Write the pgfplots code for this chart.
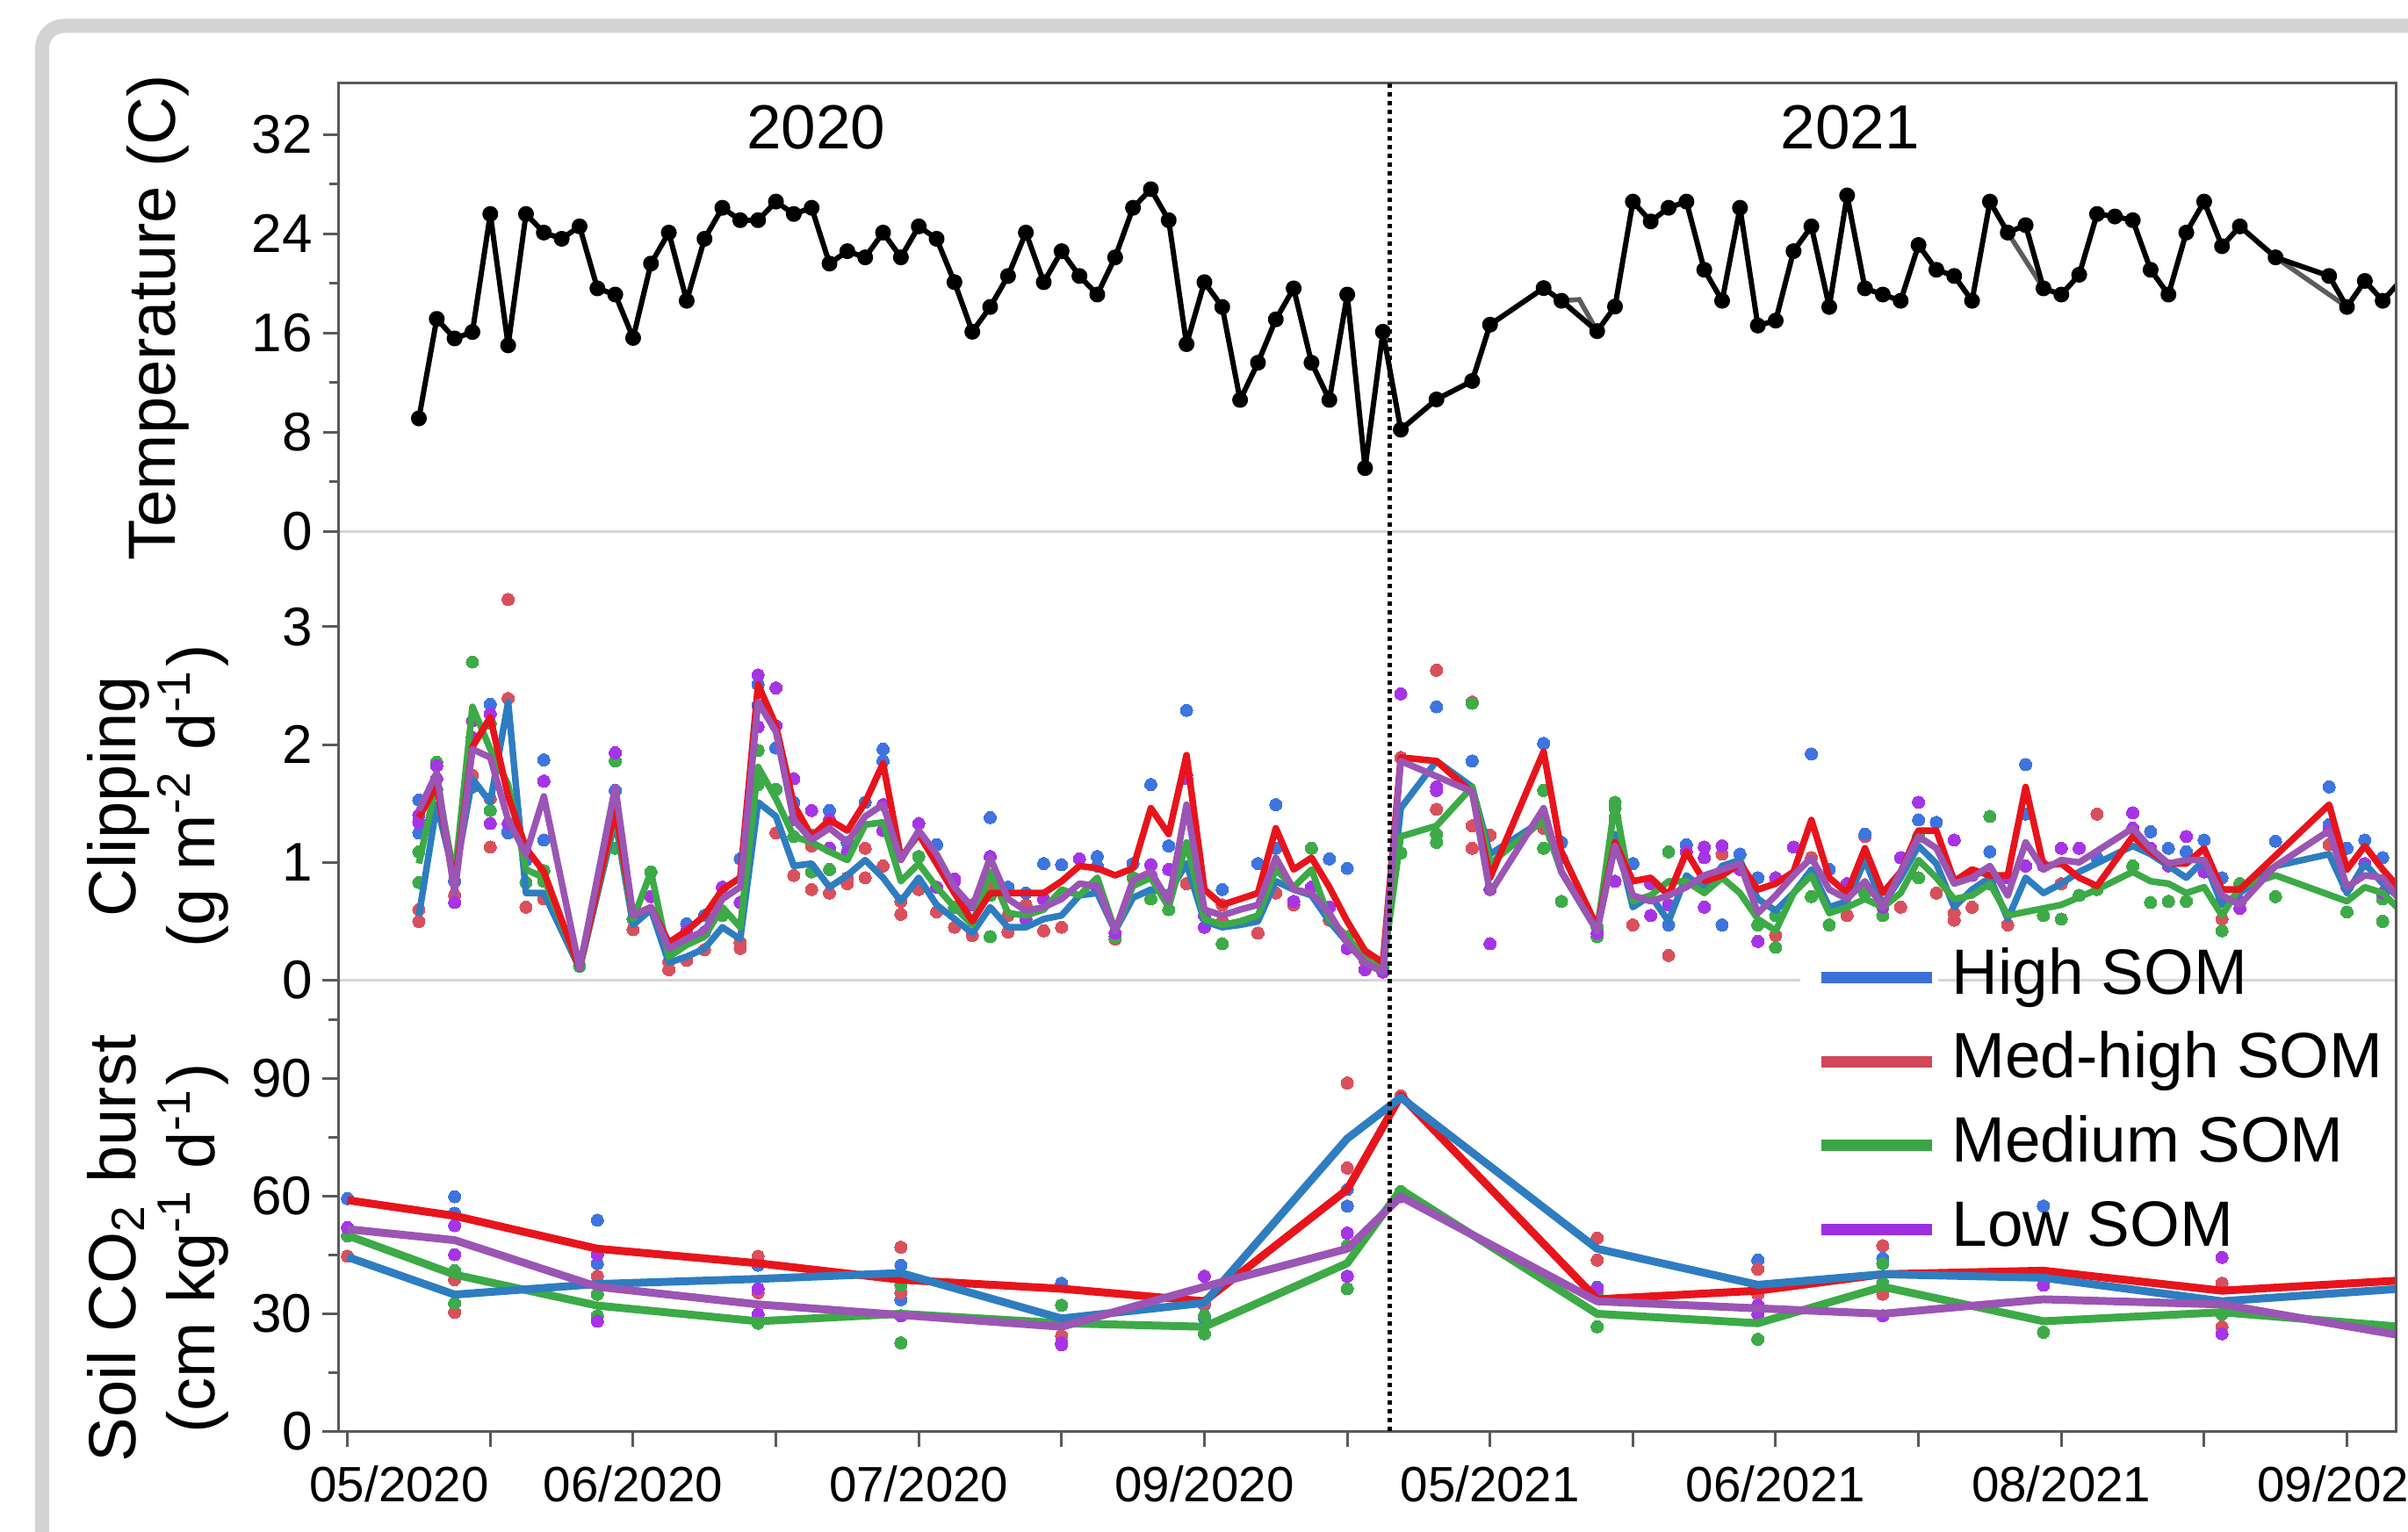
\documentclass[border=0pt]{standalone}
\usepackage{pgfplots}
\pgfplotsset{compat=1.18}
\usepackage{fontspec}
\setmainfont{Liberation Sans}

\definecolor{axgray}{HTML}{5A5A5A}
\definecolor{sepgray}{HTML}{D6D6D6}
\definecolor{framegray}{HTML}{D3D3D3}
\definecolor{tgray}{HTML}{5C5C5C}
\definecolor{blueline}{HTML}{2E7DC1}
\definecolor{redline}{HTML}{E8141C}
\definecolor{greenline}{HTML}{3CAA46}
\definecolor{purpleline}{HTML}{9B55B4}
\definecolor{bluedot}{HTML}{3D74E0}
\definecolor{reddot}{HTML}{D9505C}
\definecolor{greendot}{HTML}{3CAB48}
\definecolor{purpledot}{HTML}{A634E6}
\definecolor{legblue}{HTML}{3A6FD8}
\definecolor{legred}{HTML}{D24759}
\definecolor{leggreen}{HTML}{3AA543}
\definecolor{legpurple}{HTML}{9B2FE0}

\newcommand\fTick{\fontsize{6.2}{7}\selectfont}
\newcommand\fX{\fontsize{5.65}{6.5}\selectfont}
\newcommand\fYear{\fontsize{7.1}{8}\selectfont}
\newcommand\fLab{\fontsize{7.6}{9}\selectfont}
\newcommand\fLeg{\fontsize{7.3}{8}\selectfont}

\pgfplotsset{
  panel/.style={
    scale only axis, width=234.25pt,
    xmin=-0.5, xmax=114.73,
    axis line style={draw=none},
    tick align=outside,
    xtick pos=bottom, ytick pos=left,
    major tick length=1.8pt, minor tick length=1.1pt,
    tick style={draw=axgray, line width=0.3pt},
    minor tick style={draw=axgray, line width=0.3pt},
    yticklabel style={font=\fTick, inner sep=0pt, xshift=-1pt},
    /pgf/number format/assume math mode=true,
    clip mode=individual,
  },
  dots/.style={only marks, mark=*, mark size=0.7pt, color=#1, mark options={draw=#1, fill=#1, line width=0pt}},
  cline/.style={#1, line width=0.75pt, line join=round},
  sline/.style={#1, line width=0.9pt, line join=round},
}

\begin{document}
\begin{tikzpicture}[x=1pt,y=1pt]
\useasboundingbox (0,0) rectangle (274.2,174.5);
\draw[framegray, line width=1.6pt, rounded corners=2.5pt] (4.8,-20) -- (4.8,171.55) -- (300,171.55);

% ---------------- Temperature ----------------
\begin{axis}[panel, at={(38.55pt,113.98pt)}, anchor=south west, height=51.07pt,
  ymin=0, ymax=36.17, ytick={0,8,16,24,32}, minor ytick={4,12,20,28}, xtick=\empty]
\addplot[tgray, line width=0.55pt, unbounded coords=jump] table {
68 18.6
69 18.7
70 16.15
70 nan
93 24.1
95 19.6
95 nan
108 22.1
112 18.1
};
\addplot[black, line width=0.6pt, mark=*, mark size=0.6pt, line join=round] table {
4 9.11
5 17.14
6 15.56
7 16.08
8 25.6
9 15.0
10 25.6
11 24.1
12 23.6
13 24.6
14 19.6
15 19.1
16 15.6
17 21.6
18 24.1
19 18.6
20 23.6
21 26.1
22 25.1
23 25.1
24 26.6
25 25.6
26 26.1
27 21.6
28 22.6
29 22.1
30 24.1
31 22.1
32 24.6
33 23.6
34 20.1
35 16.1
36 18.1
37 20.6
38 24.1
39 20.1
40 22.6
41 20.6
42 19.1
43 22.1
44 26.1
45 27.6
46 25.1
47 15.1
48 20.1
49 18.1
50 10.6
51 13.6
52 17.1
53 19.6
54 13.6
55 10.6
56 19.1
57 5.1
58 16.1
59 8.2
61 10.64
63 12.13
64 16.67
67 19.62
68 18.6
70 16.15
71 18.13
72 26.6
73 25.0
74 26.1
75 26.6
76 21.1
77 18.6
78 26.1
79 16.6
80 17.0
81 22.6
82 24.6
83 18.1
84 27.1
85 19.6
86 19.1
87 18.6
88 23.1
89 21.1
90 20.6
91 18.6
92 26.6
93 24.1
94 24.7
95 19.6
96 19.1
97 20.7
98 25.6
99 25.4
100 25.1
101 21.1
102 19.1
103 24.1
104 26.6
105 23.0
106 24.6
108 22.1
111 20.6
112 18.1
113 20.2
114 18.6
115 20.2
};
\draw[sepgray, line width=0.3pt] (rel axis cs:0,0) -- (rel axis cs:1,0);
\draw[axgray, line width=0.3pt] (rel axis cs:0,0) -- (rel axis cs:0,1) -- (rel axis cs:1,1) -- (rel axis cs:1,0);
\node[font=\fYear] at (axis cs:26.24,32.6) {2020};
\node[font=\fYear] at (axis cs:84.18,32.6) {2021};
\end{axis}

% ---------------- Clipping ----------------
\begin{axis}[panel, at={(38.55pt,62.84pt)}, anchor=south west, height=51.14pt,
  ymin=0, ymax=3.808, ytick={0,1,2,3}, xtick=\empty]
\draw[sepgray, line width=0.3pt] (axis cs:-0.5,0) -- (axis cs:81.4,0);
\draw[sepgray, line width=0.3pt] (axis cs:89.1,0) -- (axis cs:114.73,0);
\addplot[dots=reddot] table {
9 3.23
9 2.39
8 1.13
4 0.5
4 0.6
6 0.72
10 0.62
11 0.69
16 0.43
18 0.09
19 0.17
22 0.27
25 0.89
27 0.74
28 0.82
31 0.56
33 0.58
34 0.45
35 0.38
37 0.41
24 1.25
7 1.74
61 2.63
39 0.42
40 0.45
63 2.36
74 0.21
72 0.47
61 1.45
64 1.23
43 0.35
59 1.08
67 1.29
71 1.38
98 1.41
85 1.22
80 0.38
93 0.47
105 0.52
111 1.15
90 0.51
77 1.07
8 1.54
10 0.83
15 1.38
18 0.16
20 0.26
22 0.32
26 1.14
26 0.77
28 0.87
29 1.12
29 0.87
30 0.97
31 0.67
32 0.77
36 0.82
37 0.55
38 0.64
47 0.82
49 0.64
49 0.50
51 0.40
52 0.74
53 0.64
55 0.51
57 0.17
59 1.89
63 1.12
63 1.31
82 1.04
84 0.55
87 0.62
89 0.74
90 0.57
91 0.62
96 0.82
};
\addplot[dots=greendot] table {
7 2.70
4 1.09
4 0.83
5 1.85
8 1.44
8 2.18
15 1.86
15 1.12
17 0.92
11 0.84
23 1.95
24 1.62
36 0.37
32 1.05
27 0.94
13 0.12
63 2.35
61 1.24
61 1.17
59 1.08
71 1.51
67 1.12
74 1.09
54 1.12
49 0.31
70 0.37
43 0.40
46 0.60
92 1.39
80 0.28
105 0.42
108 0.71
112 0.58
114 0.50
101 0.66
83 0.47
95 0.55
96 0.52
82 0.71
5 1.62
10 0.83
11 0.93
16 0.52
21 0.55
23 1.66
25 1.22
26 1.23
26 0.92
34 0.62
36 0.72
43 0.37
44 0.87
45 0.69
56 0.37
58 0.10
67 1.61
68 0.67
70 0.45
71 1.46
79 0.47
80 0.55
85 0.74
86 0.55
88 1.22
88 0.87
97 0.72
98 0.77
100 0.97
102 0.67
103 0.67
106 0.82
114 0.69
};
\addplot[dots=bluedot] table {
4 1.53
8 2.34
11 1.87
11 1.19
23 2.51
24 1.97
30 1.96
30 1.86
36 1.38
19 0.48
20 0.55
22 1.03
27 1.44
33 1.15
9 1.25
39 0.99
47 2.29
45 1.66
52 1.49
40 0.98
42 1.05
56 0.95
55 1.03
61 2.32
67 2.01
63 1.86
68 1.17
74 0.47
77 0.47
75 1.15
46 1.14
82 1.92
94 1.83
111 1.64
108 1.18
88 1.36
113 1.19
101 1.26
85 1.24
4 1.25
6 0.99
6 0.84
7 1.64
9 1.27
10 1.02
15 1.61
23 2.33
25 1.51
28 1.17
29 1.51
37 0.79
38 0.74
42 0.97
44 0.99
49 0.77
51 0.99
52 1.12
68 1.04
72 0.99
78 1.07
79 0.87
83 0.94
85 1.04
89 1.34
92 1.09
92 0.82
94 1.41
98 1.04
102 1.12
103 1.09
104 1.19
105 0.87
111 1.32
112 1.12
114 1.04
};
\addplot[dots=purpledot] table {
23 2.59
24 2.48
15 1.93
11 1.69
5 1.82
6 0.66
8 1.33
8 2.26
7 2.20
25 1.71
26 1.44
32 1.33
34 0.86
36 1.05
38 0.52
22 0.66
59 2.43
64 0.31
41 1.03
45 0.98
48 0.45
76 1.13
76 0.62
73 0.55
47 1.74
57 0.09
61 1.64
88 1.51
100 1.42
103 1.22
79 0.33
90 1.19
81 1.13
77 1.14
97 1.12
106 0.61
4 1.40
4 1.34
5 1.71
7 2.06
9 1.33
17 0.71
18 0.24
19 0.42
20 0.41
21 0.79
23 2.15
24 2.16
25 1.36
27 1.36
27 1.12
28 1.09
30 1.49
30 1.27
33 0.79
34 0.84
35 0.64
39 0.69
42 0.79
43 0.40
45 0.89
46 0.94
47 1.71
48 0.55
53 0.67
54 0.79
55 0.62
56 0.27
58 0.07
61 1.61
64 0.77
67 1.36
70 0.40
71 0.84
73 0.82
74 0.64
75 1.09
76 1.04
78 0.94
80 0.87
84 0.82
86 0.62
87 1.04
91 0.89
93 0.87
94 0.97
95 0.97
96 1.12
100 1.29
101 1.12
102 0.97
104 0.92
105 0.69
106 0.67
111 1.27
112 0.79
113 0.99
114 0.74
};
% High SOM
\addplot[cline=blueline] table {
4 0.545
5 1.49
6 0.87
7 1.71
8 1.51
9 2.36
10 0.74
11 0.74
13 0.10
15 1.36
16 0.47
17 0.60
18 0.15
19 0.20
20 0.27
21 0.45
22 0.35
23 1.51
24 1.39
25 0.97
26 0.99
27 0.79
28 0.89
29 1.02
30 0.87
31 0.67
32 0.87
33 0.64
34 0.52
35 0.40
36 0.62
37 0.45
38 0.45
39 0.52
40 0.55
41 0.72
42 0.74
43 0.42
44 0.70
45 0.77
46 0.74
47 0.99
48 0.50
49 0.45
50 0.47
51 0.50
52 0.84
53 0.77
54 0.72
55 0.50
56 0.32
57 0.15
58 0.07
59 1.46
61 1.86
63 1.64
64 1.07
67 1.36
68 0.92
70 0.42
71 1.24
72 0.62
73 0.72
74 0.50
75 0.89
76 0.77
77 0.97
78 1.02
79 0.69
80 0.59
81 0.74
82 0.94
83 0.62
84 0.67
85 1.02
86 0.64
87 0.87
88 1.14
89 0.99
90 0.62
91 0.77
92 0.87
93 0.52
94 0.87
95 0.74
96 0.82
97 0.92
100 1.14
101 1.07
102 0.97
103 0.87
104 1.02
105 0.64
106 0.74
108 0.97
111 1.07
112 0.74
113 0.99
114 0.82
115 0.69
};
% Medium SOM
\addplot[cline=greenline] table {
4 0.99
5 1.69
6 0.87
7 2.32
8 1.96
9 1.66
10 0.94
11 0.87
13 0.10
15 1.41
16 0.52
17 0.92
18 0.20
19 0.30
20 0.37
21 0.62
22 0.45
23 1.81
24 1.54
25 1.22
26 1.17
27 1.09
28 1.02
29 1.32
30 1.34
31 0.84
32 0.99
33 0.79
34 0.62
35 0.47
36 0.92
37 0.57
38 0.55
39 0.60
40 0.77
41 0.72
42 0.87
43 0.42
44 0.80
45 0.87
46 0.62
47 1.17
48 0.52
49 0.47
50 0.50
51 0.55
52 0.94
53 0.79
54 0.94
55 0.52
56 0.37
57 0.17
58 0.10
59 1.22
61 1.31
63 1.64
64 0.99
67 1.36
68 0.92
70 0.42
71 1.51
72 0.67
73 0.72
74 0.84
75 0.84
76 0.74
77 0.87
78 0.74
79 0.52
80 0.42
81 0.74
82 0.89
83 0.57
84 0.62
85 0.69
86 0.62
87 0.74
88 1.02
89 0.87
90 0.69
91 0.72
92 0.82
93 0.55
96 0.64
98 0.77
100 0.92
101 0.84
102 0.82
103 0.74
104 0.79
105 0.55
106 0.79
108 0.89
112 0.67
113 0.79
114 0.74
115 0.59
};
% Med-high SOM
\addplot[cline=redline] table {
4 1.38
5 1.66
6 0.80
7 1.98
8 2.23
9 1.56
10 1.12
11 0.92
13 0.10
15 1.45
16 0.55
17 0.62
18 0.32
19 0.42
20 0.55
21 0.77
22 0.87
23 2.51
24 2.16
25 1.49
26 1.22
27 1.36
28 1.27
29 1.51
30 1.84
31 1.04
32 1.24
33 0.99
34 0.74
35 0.50
36 0.74
37 0.74
38 0.74
39 0.74
40 0.84
41 0.97
42 0.95
43 0.89
44 0.95
45 1.46
46 1.24
47 1.91
48 0.77
49 0.64
50 0.69
51 0.74
52 1.29
53 0.94
54 1.04
55 0.79
56 0.50
57 0.25
58 0.15
59 1.89
61 1.86
63 1.59
64 0.87
67 1.94
68 1.09
70 0.45
71 1.17
72 0.84
73 0.87
74 0.72
75 1.09
76 0.84
77 0.89
78 0.99
79 0.77
80 0.82
81 0.92
82 1.36
83 0.87
84 0.74
85 1.12
86 0.74
87 0.92
88 1.27
89 1.27
90 0.84
91 0.94
92 0.89
93 0.89
94 1.64
95 0.97
96 0.99
97 0.87
98 0.80
100 1.22
101 1.09
102 0.99
103 0.99
104 1.12
105 0.77
106 0.77
111 1.49
112 0.94
113 1.14
114 0.94
115 0.77
};
% Low SOM
\addplot[cline=purpleline] table {
4 1.44
5 1.76
6 0.74
7 1.96
8 1.89
9 1.36
10 1.07
11 1.56
13 0.10
15 1.64
16 0.55
17 0.62
18 0.27
19 0.35
20 0.42
21 0.69
22 0.79
23 2.36
24 2.11
25 1.36
26 1.19
27 1.29
28 1.17
29 1.39
30 1.49
31 1.02
32 1.27
33 1.07
34 0.79
35 0.62
36 1.04
37 0.69
38 0.59
39 0.62
40 0.69
41 0.82
42 0.80
43 0.42
44 0.85
45 0.92
46 0.67
47 1.49
48 0.60
49 0.55
50 0.60
51 0.64
52 1.04
53 0.77
54 0.74
55 0.57
56 0.32
57 0.15
58 0.07
59 1.86
63 1.60
64 0.74
67 1.46
68 0.92
70 0.42
71 1.14
72 0.72
73 0.67
74 0.72
75 0.79
76 0.89
77 0.94
78 0.99
79 0.57
80 0.72
81 0.89
82 1.04
83 0.77
84 0.69
85 0.84
86 0.62
87 0.92
88 1.22
89 1.12
90 0.82
91 0.87
92 0.97
93 0.72
94 1.17
95 0.94
96 1.02
97 1.00
100 1.29
101 1.12
102 0.99
103 1.02
104 1.02
105 0.72
106 0.64
108 0.97
111 1.27
112 0.79
113 0.89
114 0.87
115 0.67
};
\draw[axgray, line width=0.3pt] (rel axis cs:0,0) -- (rel axis cs:0,1);
\draw[axgray, line width=0.3pt] (rel axis cs:1,0) -- (rel axis cs:1,1);
\end{axis}

% ---------------- Soil CO2 burst ----------------
\begin{axis}[panel, at={(38.55pt,11.46pt)}, anchor=south west, height=51.38pt,
  ymin=0, ymax=115.1, ytick={0,30,60,90}, minor ytick={15,45,75,105},
  xtick={0,8,...,112},
  xticklabels={\hspace*{11.8pt}05/2020,,06/2020,,07/2020,,09/2020,,05/2021,,06/2021,,08/2021,,09/2021},
  xticklabel style={font=\fX, inner sep=0pt, yshift=-1.9pt},
  legend style={at={(axis description cs:0.717,1.0751)}, anchor=north west,
    draw=none, fill=none, inner sep=0pt, row sep=2.87pt, column sep=1.65pt,
    font=\fLeg, nodes={inner sep=0pt, text height=5.2pt, text depth=1.5pt}},
  legend cell align=left,
  legend image code/.code={\draw[#1, line width=1.3pt] (0pt,0pt) -- (12.6pt,0pt);},
]
\addplot[dots=bluedot, forget plot] table {
0 59.4
6 59.9
6 55.7
14 53.9
14 42.8
23 42.4
31 42.4
31 33.6
40 37.8
48 32.2
48 29.0
56 61.7
56 57.5
59 85.6
70 36.8
79 43.7
86 44.2
95 57.5
105 37.8
};
\addplot[dots=reddot, forget plot] table {
0 44.7
6 30.4
6 38.7
14 39.6
23 44.7
23 35.4
31 47.0
31 35.4
40 24.4
48 32.7
56 88.9
56 67.2
59 85.6
70 49.3
70 43.7
79 41.4
79 35.0
86 47.4
86 35.0
95 37.3
105 37.8
105 26.7
};
\addplot[dots=greendot, forget plot] table {
0 49.9
6 32.7
6 41.0
14 35.0
14 29.5
23 27.6
31 22.6
31 37.3
40 32.2
48 24.9
48 29.5
56 36.4
56 47.4
59 61.2
70 26.7
70 35.0
79 23.5
86 42.8
86 37.8
95 25.3
105 29.9
};
\addplot[dots=purpledot, forget plot] table {
0 52.0
6 52.5
6 45.1
14 45.1
14 28.1
23 36.4
23 29.9
31 29.5
40 22.1
40 22.6
48 39.6
56 50.6
56 39.6
59 59.9
70 36.4
79 32.2
79 29.9
86 29.5
95 37.3
105 44.4
105 24.9
};
\addplot[sline=redline, forget plot] table {
0 59.0
6 55.0
14 46.6
23 42.9
31 38.7
40 36.4
48 33.2
56 61.7
59 85.7
70 33.7
79 35.9
86 40.1
95 41.0
105 35.9
115 38.5
};
\addplot[sline=greenline, forget plot] table {
0 50.0
6 40.0
14 32.1
23 28.1
31 30.0
40 27.6
48 26.7
56 42.9
59 61.7
70 30.0
79 27.6
86 36.9
95 28.1
105 30.4
115 26.7
};
\addplot[sline=blueline, forget plot] table {
0 44.5
6 34.9
14 37.6
23 38.9
31 40.4
40 28.8
48 32.8
56 74.7
59 85.2
70 46.6
79 37.4
86 40.1
95 39.2
105 33.2
115 36.4
};
\addplot[sline=purpleline, forget plot] table {
0 51.6
6 48.8
14 36.9
23 32.4
31 29.7
40 26.7
48 36.9
56 46.6
59 59.9
70 33.2
79 31.4
86 30.0
95 33.7
105 32.4
115 24.5
};
\addlegendimage{legblue}
\addlegendentry{High SOM}
\addlegendimage{legred}
\addlegendentry{Med-high SOM}
\addlegendimage{leggreen}
\addlegendentry{Medium SOM}
\addlegendimage{legpurple}
\addlegendentry{Low SOM}
\draw[axgray, line width=0.3pt] (rel axis cs:0,1) -- (rel axis cs:0,0) -- (rel axis cs:1,0) -- (rel axis cs:1,1);
\draw[black, line width=0.5pt, dash pattern=on 0.5pt off 0.5pt] (axis cs:58.4,0) -- ++(0pt,153.94pt);
\end{axis}

% ---------------- axis titles ----------------
\node[rotate=90, font=\fLab] at (18.0,138.3) {Temperature (C)};
\node[rotate=90, font=\fLab, align=center] at (18.0,83.8) {Clipping\\(g m\textsuperscript{-2} d\textsuperscript{-1})};
\node[rotate=90, font=\fLab, align=center] at (18.0,32.3) {Soil CO\textsubscript{2} burst\\(cm kg\textsuperscript{-1} d\textsuperscript{-1})};
\end{tikzpicture}
\end{document}
